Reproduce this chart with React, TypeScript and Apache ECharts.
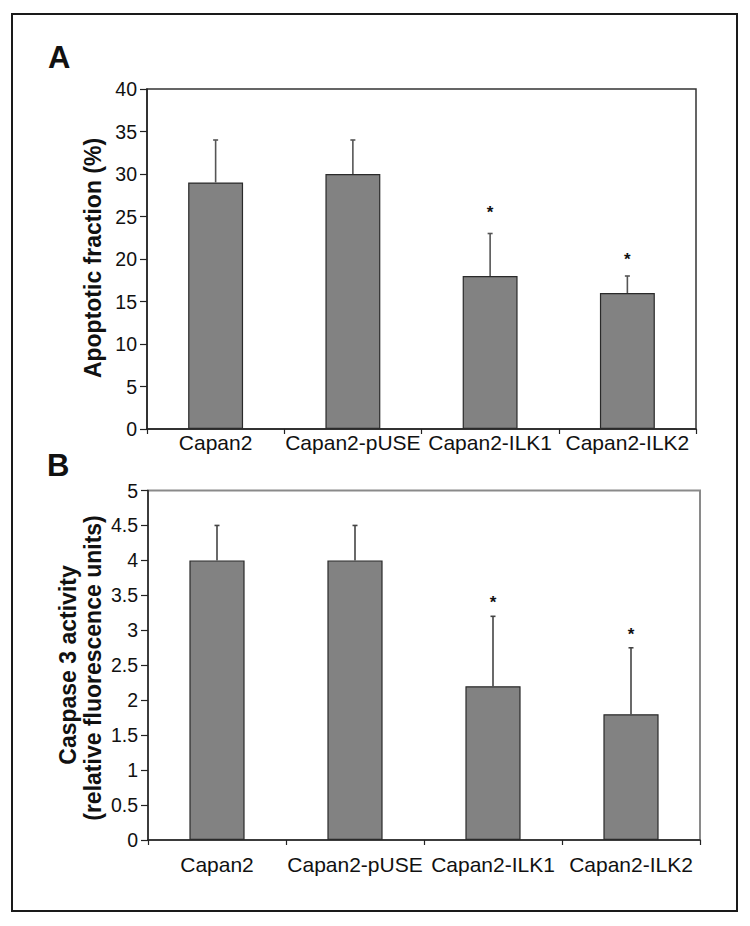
import React, { useEffect, useRef } from "react";
import * as echarts from "echarts";

const categories = ["Capan2", "Capan2-pUSE", "Capan2-ILK1", "Capan2-ILK2"];

const apoptoticMean = [29, 30, 18, 16];
const apoptoticUpper = [34, 34, 23, 18];
const apoptoticStar: (number | null)[] = [null, null, 26, 20.4];

const caspaseMean = [4.0, 4.0, 2.2, 1.8];
const caspaseUpper = [4.5, 4.5, 3.2, 2.75];
const caspaseStar: (number | null)[] = [null, null, 3.46, 3.0];

const apoptoticAxis = { min: 0, max: 40, interval: 5 };
const caspaseAxis = { min: 0, max: 5, interval: 0.5 };

const FONT = "'Liberation Sans', Arial, Helvetica, sans-serif";

function errorSeries(idx: number, mean: number[], upper: number[], color: string) {
  return {
    type: "custom",
    xAxisIndex: idx,
    yAxisIndex: idx,
    z: 3,
    silent: true,
    data: mean.map((m, i) => [i, m, upper[i]]),
    renderItem: (_p: any, api: any) => {
      const x = api.value(0);
      const b = api.coord([x, api.value(1)]);
      const t = api.coord([x, api.value(2)]);
      return {
        type: "group",
        children: [
          { type: "line", shape: { x1: b[0], y1: b[1], x2: t[0], y2: t[1] }, style: { stroke: color, lineWidth: 1.6 } },
          { type: "line", shape: { x1: t[0] - 2.5, y1: t[1], x2: t[0] + 2.5, y2: t[1] }, style: { stroke: color, lineWidth: 1.6 } },
        ],
      };
    },
  };
}

function starSeries(idx: number, stars: (number | null)[]) {
  const data: number[][] = [];
  stars.forEach((s, i) => {
    if (s !== null) data.push([i, s]);
  });
  return {
    type: "custom",
    xAxisIndex: idx,
    yAxisIndex: idx,
    z: 4,
    silent: true,
    data,
    renderItem: (_p: any, api: any) => {
      const c = api.coord([api.value(0), api.value(1)]);
      return {
        type: "text",
        x: c[0],
        y: c[1] + 4,
        style: { text: "*", font: `bold 17px ${FONT}`, fill: "#111", align: "center", verticalAlign: "middle" },
      };
    },
  };
}

export default function App() {
  const ref = useRef<HTMLDivElement>(null);

  useEffect(() => {
    if (!ref.current) return;
    const chart = echarts.init(ref.current, null, { renderer: "svg" });

    const xAxisCommon = (margin: number) => ({
      type: "category",
      data: categories,
      boundaryGap: true,
      axisLine: { lineStyle: { color: "#222", width: 1.5 } },
      axisTick: { show: true, length: 5, lineStyle: { color: "#222", width: 1.2 } },
      axisLabel: { color: "#111", fontSize: 21, fontFamily: FONT, margin, interval: 0 },
      splitLine: { show: false },
    });

    const yAxisCommon = (a: { min: number; max: number; interval: number }) => ({
      type: "value",
      min: a.min,
      max: a.max,
      interval: a.interval,
      axisLine: { show: true, lineStyle: { color: "#222", width: 1.5 } },
      axisTick: { show: true, length: 7, lineStyle: { color: "#222", width: 1.2 } },
      axisLabel: { color: "#111", fontSize: 19.5, fontFamily: FONT, margin: 10 },
      splitLine: { show: false },
    });

    chart.setOption({
      animation: false,
      backgroundColor: "#fff",
      grid: [
        { left: 147, top: 89, width: 549, height: 340, show: true, borderColor: "#333", borderWidth: 1.5, backgroundColor: "transparent" },
        { left: 148, top: 490.5, width: 552, height: 349.5, show: true, borderColor: "#8a8a8a", borderWidth: 2, backgroundColor: "transparent" },
      ],
      xAxis: [
        { ...xAxisCommon(3), gridIndex: 0 },
        { ...xAxisCommon(14), gridIndex: 1 },
      ],
      yAxis: [
        { ...yAxisCommon(apoptoticAxis), gridIndex: 0 },
        { ...yAxisCommon(caspaseAxis), gridIndex: 1 },
      ],
      series: [
        {
          type: "bar",
          xAxisIndex: 0,
          yAxisIndex: 0,
          data: apoptoticMean,
          barWidth: "40%",
          z: 2,
          itemStyle: { color: "#828282", borderColor: "#2a2a2a", borderWidth: 1.2 },
        },
        errorSeries(0, apoptoticMean, apoptoticUpper, "#555"),
        starSeries(0, apoptoticStar),
        {
          type: "bar",
          xAxisIndex: 1,
          yAxisIndex: 1,
          data: caspaseMean,
          barWidth: "40%",
          z: 2,
          itemStyle: { color: "#828282", borderColor: "#2a2a2a", borderWidth: 1.2 },
        },
        errorSeries(1, caspaseMean, caspaseUpper, "#444"),
        starSeries(1, caspaseStar),
      ],
      graphic: [
        {
          type: "rect",
          shape: { x: 12, y: 14, width: 725, height: 897 },
          style: { fill: "none", stroke: "#1a1a1a", lineWidth: 2 },
          silent: true,
        },
        {
          type: "text",
          x: 48,
          y: 73,
          style: { text: "A", font: `bold 31px ${FONT}`, fill: "#111", align: "left", verticalAlign: "bottom" },
        },
        {
          type: "text",
          x: 47,
          y: 481,
          style: { text: "B", font: `bold 31px ${FONT}`, fill: "#111", align: "left", verticalAlign: "bottom" },
        },
        {
          type: "text",
          x: 93,
          y: 258,
          rotation: Math.PI / 2,
          style: { text: "Apoptotic fraction (%)", font: `bold 23px ${FONT}`, fill: "#111", align: "center", verticalAlign: "middle" },
        },
        {
          type: "text",
          x: 68,
          y: 665,
          rotation: Math.PI / 2,
          style: { text: "Caspase 3 activity", font: `bold 23px ${FONT}`, fill: "#111", align: "center", verticalAlign: "middle" },
        },
        {
          type: "text",
          x: 93,
          y: 668,
          rotation: Math.PI / 2,
          style: { text: "(relative fluorescence units)", font: `bold 23px ${FONT}`, fill: "#111", align: "center", verticalAlign: "middle" },
        },
      ],
    });

    return () => chart.dispose();
  }, []);

  return (
    <div
      ref={ref}
      style={{ position: "absolute", left: 0, top: 0, width: 750, height: 926, background: "#fff" }}
    />
  );
}
